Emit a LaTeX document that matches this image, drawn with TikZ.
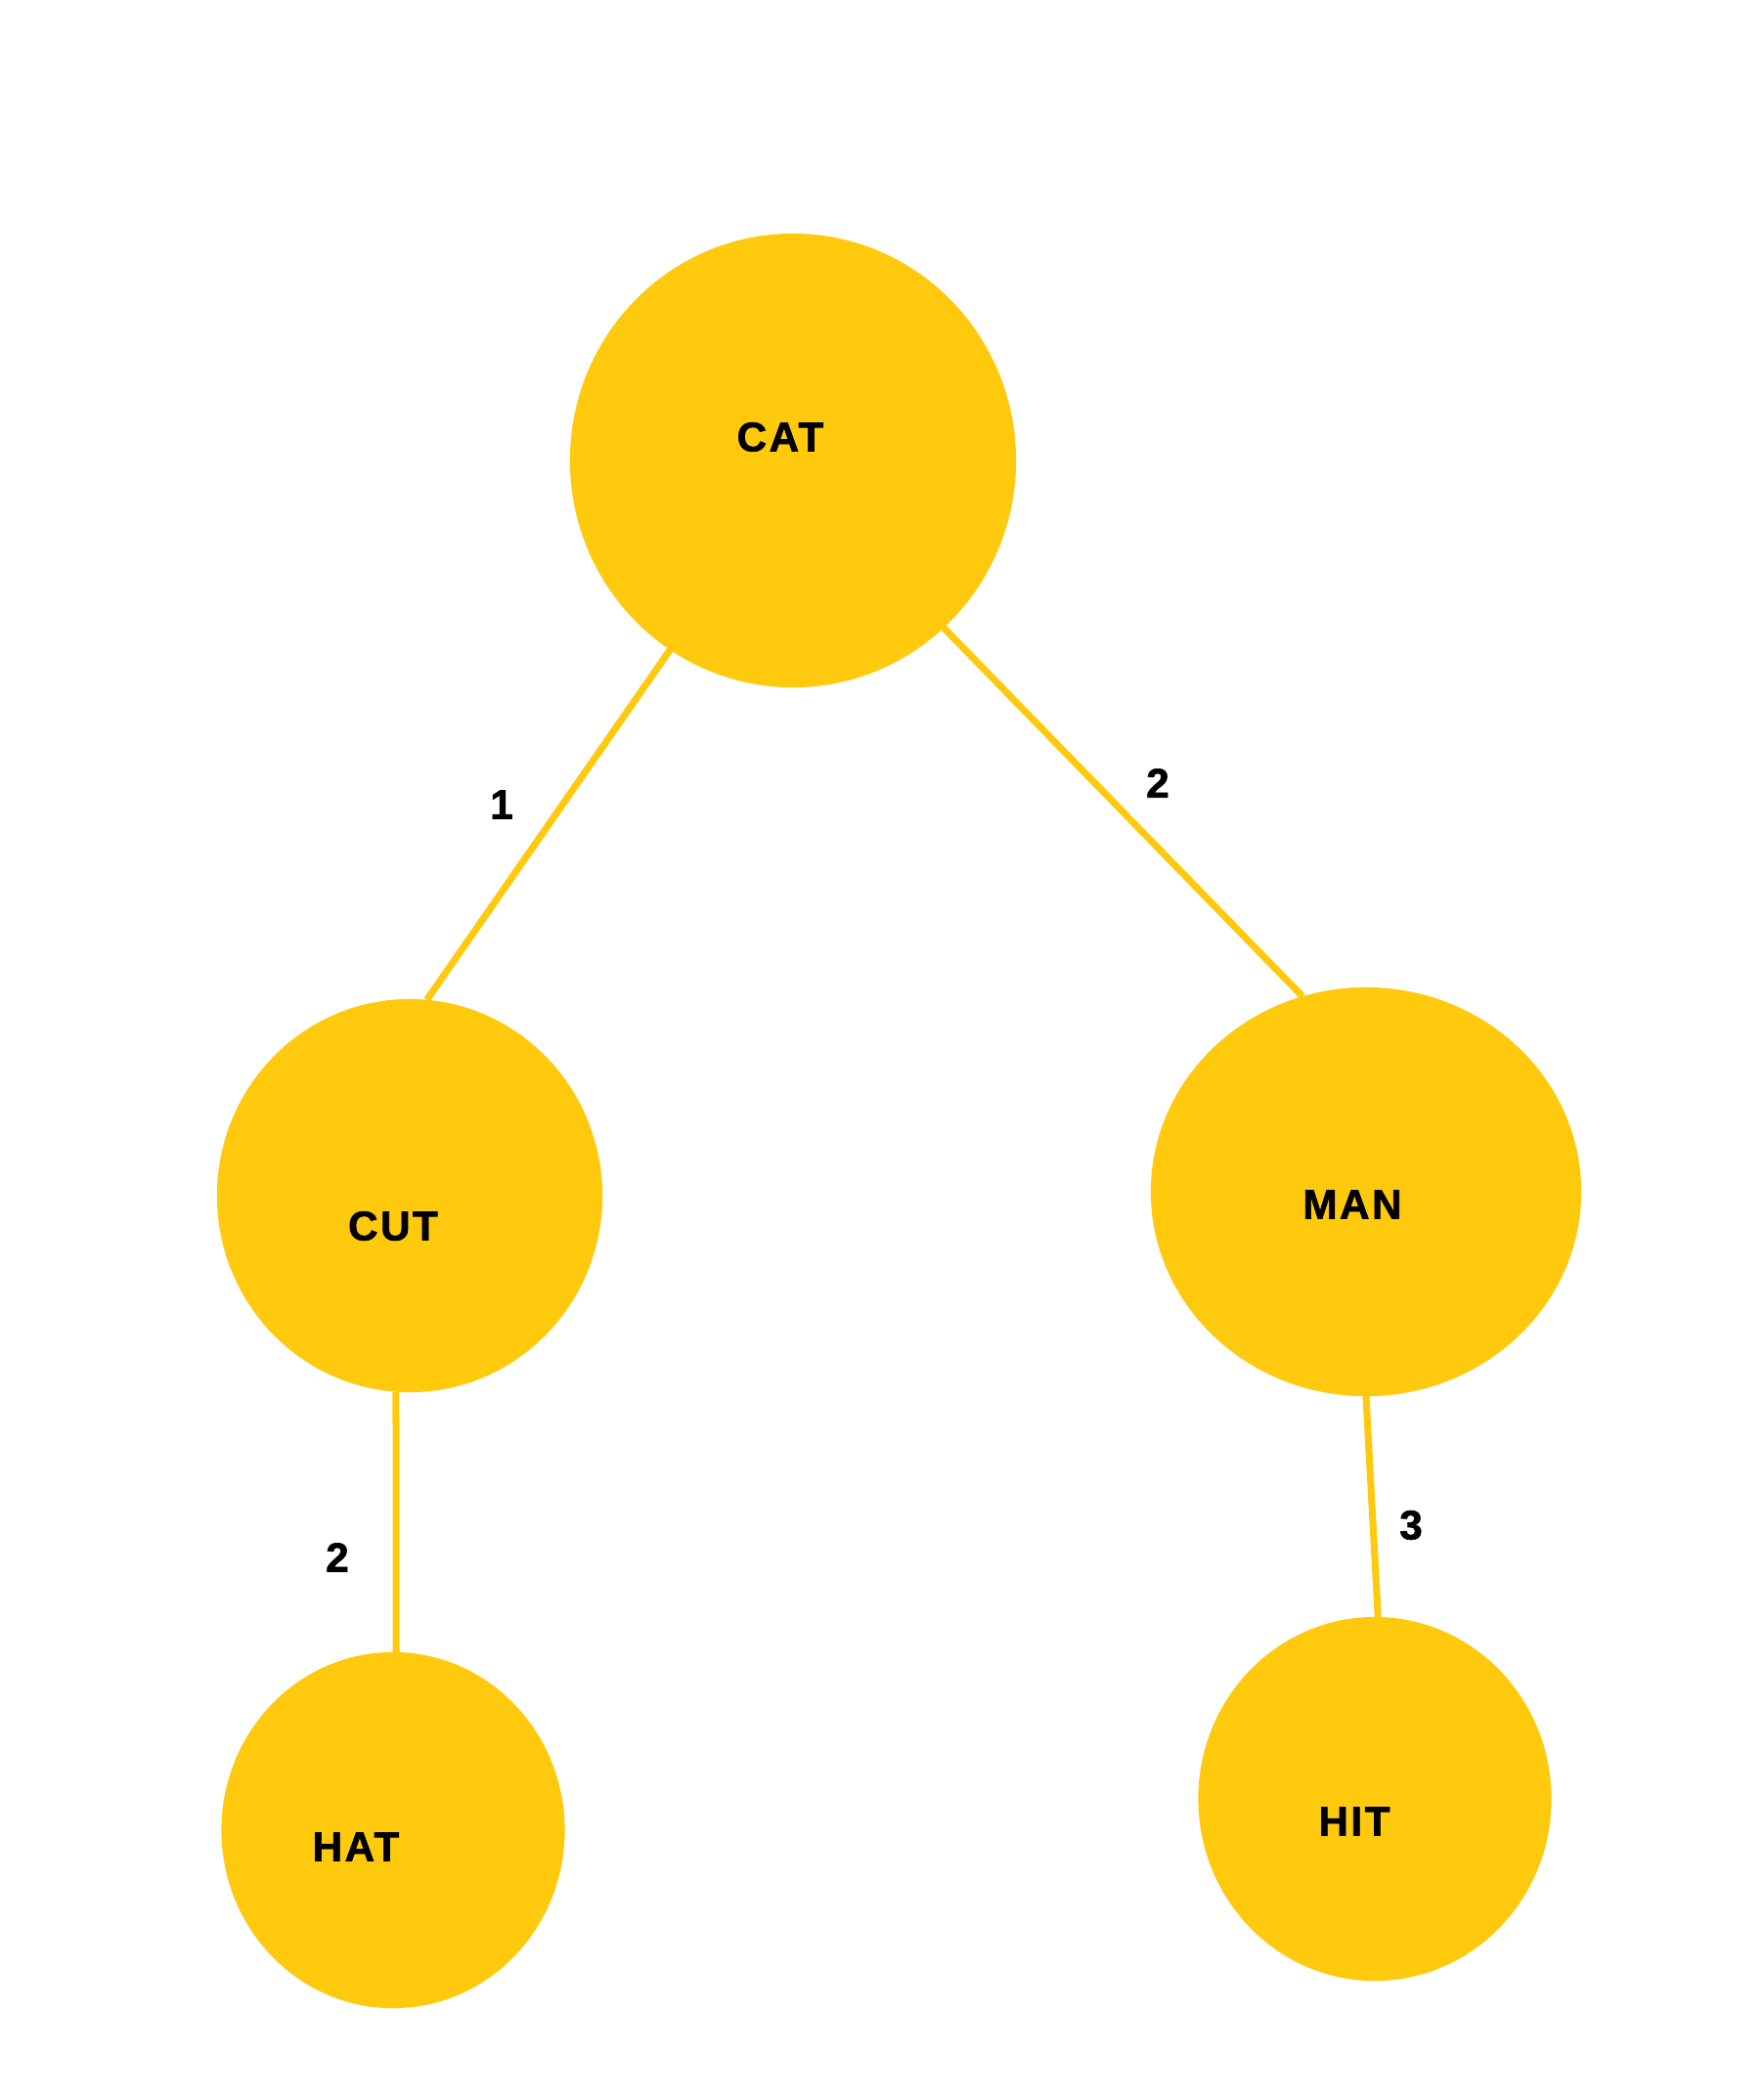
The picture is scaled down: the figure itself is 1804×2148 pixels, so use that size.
\documentclass[tikz,border=0pt]{standalone}
\usepackage{fontspec}
\setmainfont{Liberation Sans}
\newfontfamily\heavyfont[FakeBold=1.5, LetterSpace=6]{Liberation Sans}
\usetikzlibrary{shapes.geometric}

\definecolor{gold}{RGB}{255,201,14}

\tikzset{
  blob/.style={ellipse, fill=gold, inner sep=0pt, outer sep=0pt},
  word/.style={font=\heavyfont\bfseries\fontsize{12}{12}\selectfont, text=black, inner sep=0pt},
  link/.style={draw=gold, line width=0.07cm}
}

\begin{document}
\begin{tikzpicture}[x=0.01cm, y=-0.01cm]
          \useasboundingbox (0,0) rectangle (1804,2148);

          % Nodes
          \node[blob, minimum width=4.56cm, minimum height=4.64cm] (cat) at (811,471) {};
          \node[blob, minimum width=3.94cm, minimum height=4.02cm] (cut) at (419,1223) {};
          \node[blob, minimum width=4.40cm, minimum height=4.18cm] (man) at (1397,1219) {};
          \node[blob, minimum width=3.51cm, minimum height=3.64cm] (hat) at (402,1872) {};
          \node[blob, minimum width=3.61cm, minimum height=3.72cm] (hit) at (1406,1840) {};

          \node[word] (catname) at (798,447) {CAT};
          \node[word] (cutname) at (402,1254) {CUT};
          \node[word] (manname) at (1383,1232) {MAN};
          \node[word] (hatname) at (364,1889) {HAT};
          \node[word] (hitname) at (1385,1863) {HIT};

          % Edges
          \draw[link] (cat.237.5) -- (cut.85);
          \draw[link] (cat.312) -- (man.108);
          \draw[link] (cut.266) -- (hat.89);
          \draw[link] (man.270) -- (hit.89);

          % Weights
          \node[word] (w1) at (513,823) {1};
          \node[word] (w2) at (1184,801) {2};
          \node[word] (w3) at (345,1593) {2};
          \node[word] (w4) at (1443,1560) {3};

        \end{tikzpicture}
\end{document}
